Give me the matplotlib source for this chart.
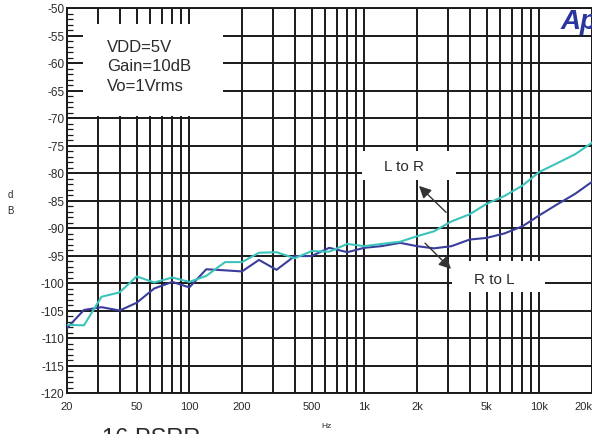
import numpy as np
import matplotlib
matplotlib.use("Agg")
import matplotlib.pyplot as plt
from matplotlib.patches import Rectangle
from matplotlib.ticker import FixedLocator, MultipleLocator

plt.rcParams["font.family"] = ["Liberation Sans", "DejaVu Sans"]
plt.rcParams["axes.unicode_minus"] = False

# 1/3-octave measurement points
freq = [20, 25, 31.5, 40, 50, 63, 80, 100, 125, 160, 200, 250, 315, 400, 500,
        630, 800, 1000, 1250, 1600, 2000, 2500, 3150, 4000, 5000, 6300, 8000,
        10000, 12500, 16000, 20000]
l_to_r = [-107.6, -107.7, -102.5, -101.7, -98.8, -99.9, -99.0, -99.8, -98.7,
          -96.2, -96.2, -94.5, -94.4, -95.5, -94.2, -94.3, -92.9, -93.3, -92.9,
          -92.5, -91.5, -90.6, -88.8, -87.5, -85.6, -84.2, -82.3, -79.8, -78.3,
          -76.6, -74.5]
r_to_l = [-108.2, -104.9, -104.4, -105.0, -103.6, -101.0, -99.8, -100.8, -97.5,
          -97.7, -97.9, -95.8, -97.6, -95.1, -95.1, -93.6, -94.4, -93.6, -93.3,
          -92.7, -93.3, -93.7, -93.3, -92.1, -91.8, -91.0, -89.7, -87.7, -85.8,
          -83.8, -81.6]

xtick_vals = [20, 50, 100, 200, 500, 1000, 2000, 5000, 10000, 20000]
xtick_text = ["20", "50", "100", "200", "500", "1k", "2k", "5k", "10k", "20k"]
grid_freqs = [f * d for d in (10, 100, 1000) for f in range(1, 10)][1:] + [10000, 20000]
ytick_vals = list(range(-120, -49, 5))

CYAN = "#3cc4bc"
NAVY = "#3a3d9c"
GRIDC = "#1a1a1a"
TXT = "#2a2a2a"

fig = plt.figure(figsize=(5.92, 4.35), dpi=100)
ax = fig.add_axes([67 / 592, 1 - 394 / 435, 525 / 592, 385 / 435])
ax.set_xscale("log")
ax.set_xlim(20, 20000)
ax.set_ylim(-120, -50)

ax.xaxis.set_major_locator(FixedLocator(xtick_vals))
ax.xaxis.set_minor_locator(FixedLocator([g for g in grid_freqs if g not in xtick_vals]))
ax.set_xticklabels(xtick_text)
ax.xaxis.set_minor_formatter(plt.NullFormatter())
ax.get_xticklabels()[-1].set_horizontalalignment("right")
ax.set_yticks(ytick_vals)
ax.set_yticklabels([str(v) for v in ytick_vals])
ax.yaxis.set_minor_locator(MultipleLocator(1))

ax.tick_params(axis="x", which="both", length=0, labelsize=8, pad=6,
               labelcolor=TXT)
ax.tick_params(axis="y", which="major", length=0, labelsize=8.5, pad=2,
               labelcolor=TXT)
ax.tick_params(axis="y", which="minor", direction="in", length=4, width=0.9,
               color=GRIDC)
ax.grid(True, axis="x", which="both", color=GRIDC, lw=1.4)
ax.grid(True, axis="y", which="major", color=GRIDC, lw=1.4)
for s in ax.spines.values():
    s.set_color(GRIDC)
    s.set_linewidth(1.4)
ax.set_axisbelow(True)

# white label boxes that blank out the grid underneath
for (x0, x1, y0, y1) in [(24.7, 156, -69.6, -52.9),
                         (966, 3320, -81.3, -76.0),
                         (3170, 10770, -101.6, -96.0)]:
    ax.add_patch(Rectangle((x0, y0), x1 - x0, y1 - y0, facecolor="white",
                           edgecolor="none", zorder=1.5))

ax.plot(freq, r_to_l, color=NAVY, lw=1.5, zorder=3)
ax.plot(freq, l_to_r, color=CYAN, lw=1.5, zorder=3)

ax.text(33.8, -55.6, "VDD=5V\nGain=10dB\nVo=1Vrms", fontsize=12, va="top",
        ha="left", linespacing=1.38, color=TXT, zorder=4)
ax.text(1690, -78.7, "L to R", fontsize=11, ha="center", va="center",
        color=TXT, zorder=4)
ax.text(5500, -99.3, "R to L", fontsize=11, ha="center", va="center",
        color=TXT, zorder=4)

arrow = dict(arrowstyle="-|>", color="#333333", lw=1.0, mutation_scale=18)
ax.annotate("", xy=(2000, -82.0), xytext=(3010, -87.5), arrowprops=arrow,
            zorder=4)
ax.annotate("", xy=(3210, -97.8), xytext=(2165, -92.4), arrowprops=arrow,
            zorder=4)

fig.text(10 / 592, 1 - 195 / 435, "d", fontsize=7, ha="center", va="center",
         color=TXT)
fig.text(10 / 592, 1 - 211 / 435, "B", fontsize=7, ha="center", va="center",
         color=TXT)
fig.text(327 / 592, 1 - 427 / 435, "Hz", fontsize=6, ha="center",
         va="center", color=TXT)
fig.text(561 / 592, 1 - 9 / 435, "Ap", fontsize=20, fontweight="bold",
         fontstyle="italic", color="#2a35a0", ha="left", va="top")
fig.text(102 / 592, 1 - 428 / 435, "16 PSRR", fontsize=17, ha="left",
         va="top", color=TXT)

fig.savefig("out.png", dpi=100)
